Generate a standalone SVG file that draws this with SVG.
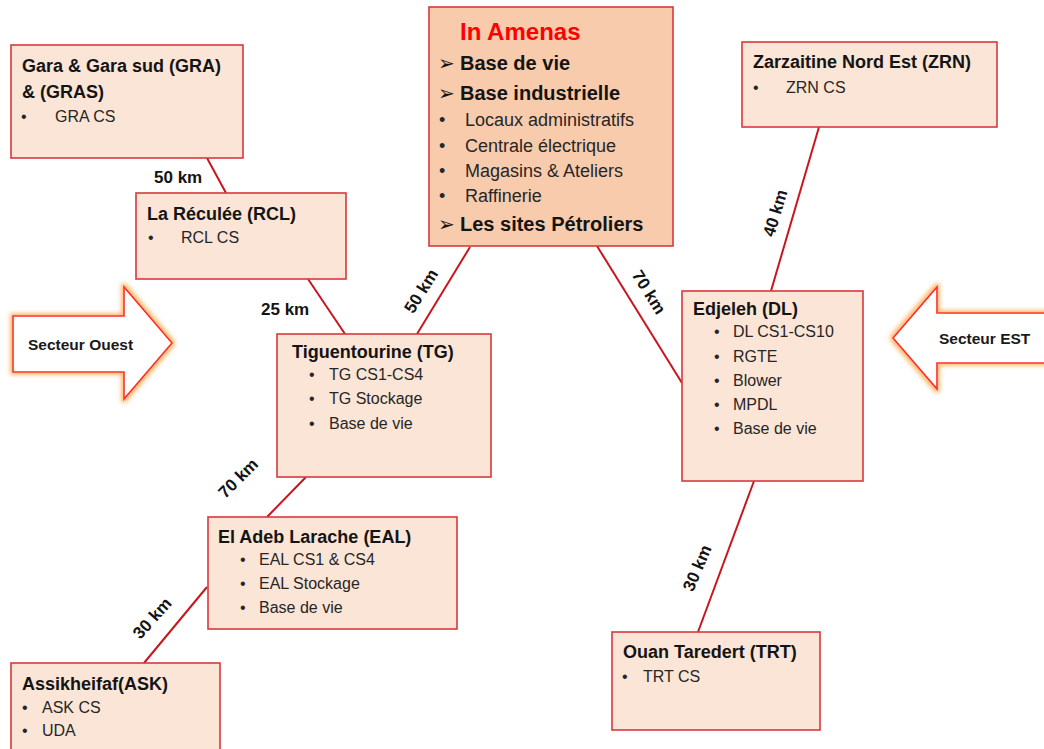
<svg xmlns="http://www.w3.org/2000/svg" width="1044" height="749" viewBox="0 0 1044 749">
<style>
.box{fill:#FBE5D6;stroke:#D9393C;stroke-width:1.6}
.main{fill:#F8CBAD;stroke:#D9393C;stroke-width:1.6}
.t{font-family:"Liberation Sans",Arial,sans-serif;font-weight:bold;font-size:18px;fill:#141414}
.i{font-family:"Liberation Sans",Arial,sans-serif;font-size:16px;fill:#262626}
.bi{font-family:"Liberation Sans",Arial,sans-serif;font-size:18px;fill:#262626}
.bh{font-family:"Liberation Sans",Arial,sans-serif;font-weight:bold;font-size:20px;fill:#141414}
.ar{font-family:"DejaVu Sans",sans-serif;font-size:20px;fill:#141414}
.km{font-family:"Liberation Sans",Arial,sans-serif;font-weight:bold;font-size:17px;fill:#141414}
.sec{font-family:"Liberation Sans",Arial,sans-serif;font-weight:bold;font-size:15.5px;fill:#1a1a1a}
.ln{stroke:#C8161E;stroke-width:2;fill:none}
.arrow{fill:#FFFFFF;stroke:#FF2A2A;stroke-width:1.6}
</style>
<defs>
<filter id="glow" x="-20%" y="-20%" width="140%" height="140%">
<feMorphology in="SourceAlpha" operator="dilate" radius="1.5" result="d"/>
<feGaussianBlur in="d" stdDeviation="2" result="b"/>
<feFlood flood-color="#F7A03C" flood-opacity="0.75"/>
<feComposite in2="b" operator="in" result="g"/>
<feMerge><feMergeNode in="g"/><feMergeNode in="SourceGraphic"/></feMerge>
</filter>
</defs>
<rect width="1044" height="749" fill="#FFFFFF"/>

<g id="connectors">
<line class="ln" x1="207" y1="158" x2="226" y2="193"/>
<line class="ln" x1="308" y1="279" x2="345" y2="334"/>
<line class="ln" x1="470" y1="247" x2="417" y2="334"/>
<line class="ln" x1="597" y1="246" x2="682" y2="383"/>
<line class="ln" x1="819" y1="127" x2="771" y2="291"/>
<line class="ln" x1="306" y1="477" x2="267" y2="517"/>
<line class="ln" x1="207" y1="587" x2="144" y2="663"/>
<line class="ln" x1="754" y1="481" x2="698" y2="632"/>
<text class="km" x="154" y="183">50 km</text>
<text class="km" x="261" y="315">25 km</text>
<text class="km" text-anchor="middle" transform="translate(421,291) rotate(-58)" x="0" y="6">50 km</text>
<text class="km" text-anchor="middle" transform="translate(649,292) rotate(58)" x="0" y="6">70 km</text>
<text class="km" text-anchor="middle" transform="translate(775,213) rotate(-73)" x="0" y="6">40 km</text>
<text class="km" text-anchor="middle" transform="translate(238,478) rotate(-45)" x="0" y="6">70 km</text>
<text class="km" text-anchor="middle" transform="translate(152,618) rotate(-48)" x="0" y="6">30 km</text>
<text class="km" text-anchor="middle" transform="translate(697,568) rotate(-67)" x="0" y="6">30 km</text>
</g>

<g id="secteur-ouest">
<polygon class="arrow" filter="url(#glow)" points="13,316 124,316 124,287 172,343 124,399 124,372 13,372"/>
<text class="sec" x="28" y="350">Secteur Ouest</text>
</g>

<g id="secteur-est">
<polygon class="arrow" filter="url(#glow)" points="1052,313 937,313 937,287 893,338 937,389 937,363 1052,363"/>
<text class="sec" x="939" y="344">Secteur EST</text>
</g>

<g id="in-amenas">
<rect class="main" x="429" y="7" width="244" height="239"/>
<text x="460" y="40" style="font-family:'Liberation Sans',Arial,sans-serif;font-weight:bold;font-size:24px;fill:#FF0000">In Amenas</text>
<text class="ar" x="438" y="70">➢</text>
<text class="bh" x="460" y="70">Base de vie</text>
<text class="ar" x="438" y="100">➢</text>
<text class="bh" x="460" y="100">Base industrielle</text>
<text class="bi" x="439" y="126">•</text><text class="bi" x="465" y="126">Locaux administratifs</text>
<text class="bi" x="439" y="152">•</text><text class="bi" x="465" y="152">Centrale électrique</text>
<text class="bi" x="439" y="177">•</text><text class="bi" x="465" y="177">Magasins &amp; Ateliers</text>
<text class="bi" x="439" y="202">•</text><text class="bi" x="465" y="202">Raffinerie</text>
<text class="ar" x="438" y="231">➢</text>
<text class="bh" x="460" y="231">Les sites Pétroliers</text>
</g>

<g id="gra">
<rect class="box" x="11" y="45" width="232" height="113"/>
<text class="t" x="22" y="72">Gara &amp; Gara sud (GRA)</text>
<text class="t" x="22" y="98">&amp; (GRAS)</text>
<text class="i" x="21" y="122">•</text><text class="i" x="55" y="122">GRA CS</text>
</g>

<g id="rcl">
<rect class="box" x="136" y="193" width="210" height="86"/>
<text class="t" x="147" y="220">La Réculée (RCL)</text>
<text class="i" x="148" y="243">•</text><text class="i" x="181" y="243">RCL CS</text>
</g>

<g id="zrn">
<rect class="box" x="742" y="42" width="255" height="85"/>
<text class="t" x="753" y="68">Zarzaitine Nord Est (ZRN)</text>
<text class="i" x="753" y="93">•</text><text class="i" x="786" y="93">ZRN CS</text>
</g>

<g id="tg">
<rect class="box" x="277" y="334" width="214" height="143"/>
<text class="t" x="292" y="358">Tiguentourine (TG)</text>
<text class="i" x="309" y="380">•</text><text class="i" x="329" y="380">TG CS1-CS4</text>
<text class="i" x="309" y="404">•</text><text class="i" x="329" y="404">TG Stockage</text>
<text class="i" x="309" y="429">•</text><text class="i" x="329" y="429">Base de vie</text>
</g>

<g id="dl">
<rect class="box" x="682" y="291" width="181" height="190"/>
<text class="t" x="693" y="315">Edjeleh (DL)</text>
<text class="i" x="714" y="337">•</text><text class="i" x="733" y="337">DL CS1-CS10</text>
<text class="i" x="714" y="362">•</text><text class="i" x="733" y="362">RGTE</text>
<text class="i" x="714" y="386">•</text><text class="i" x="733" y="386">Blower</text>
<text class="i" x="714" y="410">•</text><text class="i" x="733" y="410">MPDL</text>
<text class="i" x="714" y="434">•</text><text class="i" x="733" y="434">Base de vie</text>
</g>

<g id="eal">
<rect class="box" x="208" y="517" width="249" height="112"/>
<text class="t" x="218" y="543">El Adeb Larache (EAL)</text>
<text class="i" x="240" y="565">•</text><text class="i" x="259" y="565">EAL CS1 &amp; CS4</text>
<text class="i" x="240" y="589">•</text><text class="i" x="259" y="589">EAL Stockage</text>
<text class="i" x="240" y="613">•</text><text class="i" x="259" y="613">Base de vie</text>
</g>

<g id="ask">
<rect class="box" x="11" y="663" width="209" height="92"/>
<text class="t" x="22" y="690">Assikheifaf(ASK)</text>
<text class="i" x="22" y="713">•</text><text class="i" x="42" y="713">ASK CS</text>
<text class="i" x="22" y="736">•</text><text class="i" x="42" y="736">UDA</text>
</g>

<g id="trt">
<rect class="box" x="612" y="632" width="208" height="98"/>
<text class="t" x="623" y="658">Ouan Taredert (TRT)</text>
<text class="i" x="622" y="682">•</text><text class="i" x="643" y="682">TRT CS</text>
</g>
</svg>
